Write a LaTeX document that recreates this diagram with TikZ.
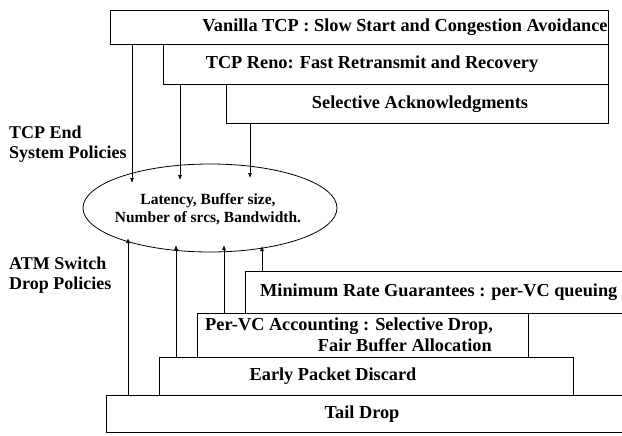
\documentclass[tikz,border=0pt]{standalone}
\usepackage{fontspec}
\setmainfont{Liberation Serif}
\usetikzlibrary{arrows.meta,shapes.geometric}
\begin{document}
\begin{tikzpicture}[x=1pt,y=-1pt,
  box/.style={draw,line width=0.8pt,inner sep=0pt,anchor=north west},
  openbox/.style={inner sep=0pt,anchor=north west},
  lbl/.style={font=\fontsize{18.3}{20}\selectfont\bfseries,inner sep=0pt},
  side/.style={font=\fontsize{18}{20}\selectfont\bfseries,inner sep=0pt,align=left,anchor=west},
  arr/.style={line width=0.7pt,-{Latex[length=5pt,width=4pt]}}]
\useasboundingbox (0,0) rectangle (622,436);
% top boxes
\node[box,minimum width=498,minimum height=34] (van) at (110,10) {};
\node[box,minimum width=445,minimum height=40] (reno) at (163,44) {};
\node[box,minimum width=382,minimum height=39] (sack) at (226,84) {};
\node[lbl] (tvan) at (405,27) {Vanilla TCP : Slow Start and Congestion Avoidance};
\node[lbl] (treno) at (372,64) {TCP Reno: Fast Retransmit and Recovery};
\node[lbl] (tsack) at (420,104) {Selective Acknowledgments};
% side labels
\node[side] (tcpend) at (9,144) {TCP End\\System Policies};
\node[side] (atm) at (9,275) {ATM Switch\\Drop Policies};
% ellipse
\node[ellipse,draw,line width=0.8pt,minimum width=254,minimum height=88,inner sep=0pt] (ell) at (210,208) {};
\node[font=\fontsize{15.5}{18.5}\selectfont\bfseries,align=center,inner sep=0pt] (tell) at (208,209) {Latency, Buffer size,\\Number of srcs, Bandwidth.};
% bottom boxes
\node[openbox,minimum width=377,minimum height=42] (minr) at (245,271) {};
\draw[line width=0.8pt] (minr.north east) -- (minr.north west) -- (minr.south west) -- (minr.south east);
\node[box,minimum width=331,minimum height=44] (pvc) at (197,313) {};
\node[box,minimum width=414,minimum height=38] (epd) at (159,357) {};
\node[openbox,minimum width=516,minimum height=37] (tail) at (106,395) {};
\draw[line width=0.8pt] (tail.north east) -- (tail.north west) -- (tail.south west) -- (tail.south east);
\node[lbl,anchor=west] (tminr) at (260,292) {Minimum Rate Guarantees : per-VC queuing};
\node[lbl,anchor=west] (tpvc1) at (205,326) {Per-VC Accounting : Selective Drop,};
\node[lbl,anchor=east] (tpvc2) at (492,345) {Fair Buffer Allocation};
\node[lbl] (tepd) at (333,376) {Early Packet Discard};
\node[lbl] (ttail) at (362,414) {Tail Drop};
% arrow end points
\coordinate (d1) at (132,183);
\coordinate (d2) at (180,180);
\coordinate (d3) at (250,178);
\coordinate (u1) at (128,238);
\coordinate (u2) at (176,245);
\coordinate (u3) at (224,245);
\coordinate (u4) at (262,246);
\draw[arr] (d1 |- van.south) -- (d1);
\draw[arr] (d2 |- reno.south) -- (d2);
\draw[arr] (d3 |- sack.south) -- (d3);
\draw[arr] (u1 |- tail.north) -- (u1);
\draw[arr] (u2 |- epd.north) -- (u2);
\draw[arr] (u3 |- pvc.north) -- (u3);
\draw[arr] (u4 |- minr.north) -- (u4);
\end{tikzpicture}
\end{document}
